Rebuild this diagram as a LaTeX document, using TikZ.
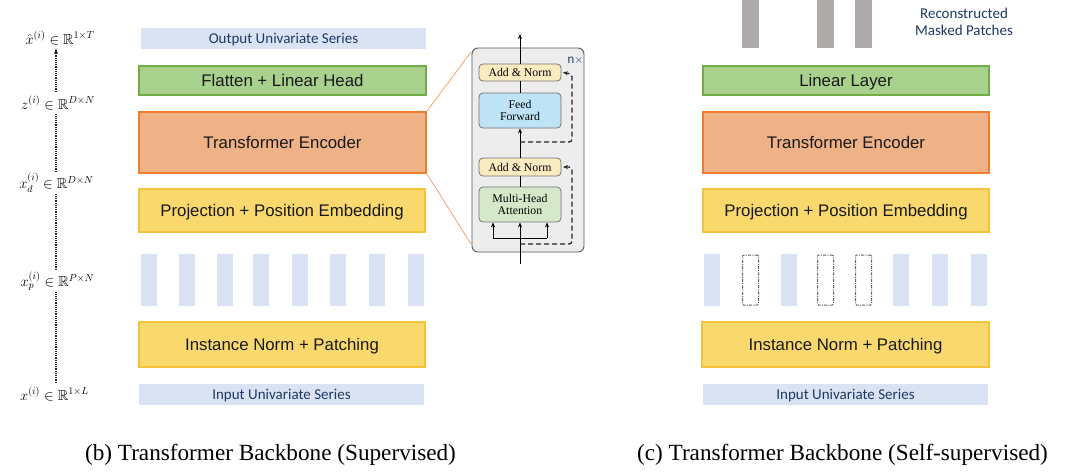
\RequirePackage{fix-cm}
\documentclass[tikz,border=0pt]{standalone}
\usepackage{fontspec}
\usepackage{amssymb}
\setmainfont{Liberation Serif}
\newfontfamily\arialf{Liberation Sans}
\newfontfamily\calf{Carlito}
\usetikzlibrary{arrows.meta,calc}
\definecolor{barblue}{HTML}{DAE3F3}
\definecolor{txtblue}{HTML}{1F3864}
\definecolor{grfill}{HTML}{A9D18E}
\definecolor{grline}{HTML}{70AD47}
\definecolor{orfill}{HTML}{EEB286}
\definecolor{orline}{HTML}{ED7D31}
\definecolor{yefill}{HTML}{F9D96E}
\definecolor{yeline}{HTML}{F5C23C}
\definecolor{graybar}{HTML}{AEAAAA}
\definecolor{detfill}{HTML}{EDEDED}
\definecolor{anfill}{HTML}{FAEBC0}
\definecolor{fffill}{HTML}{BEE2F6}
\definecolor{mhfill}{HTML}{D5E9CA}
\tikzset{
  colbox/.style={draw, line width=2pt, inner sep=0pt, text=black!90, font=\arialf\fontsize{16.8}{19}\selectfont, text height=12.5pt, text depth=0.5pt, minimum width=286pt},
  greenbox/.style={colbox, fill=grfill, draw=grline},
  orangebox/.style={colbox, fill=orfill, draw=orline},
  yellowbox/.style={colbox, fill=yefill, draw=yeline},
  serbar/.style={fill=barblue, inner sep=0pt, minimum width=285pt, minimum height=21pt, text=txtblue, font=\calf\fontsize{15}{17}\selectfont, text height=10pt, text depth=0pt},
  patch/.style={fill=barblue, inner sep=0pt, minimum width=16pt, minimum height=52pt},
  maskpatch/.style={draw=black!62, line width=1pt, dash pattern=on 3pt off 1.2pt on 1pt off 1.2pt, inner sep=0pt, minimum width=16pt, minimum height=50pt, rounded corners=1pt},
  recpatch/.style={fill=graybar, inner sep=0pt, minimum width=17pt, minimum height=48pt},
  mathlbl/.style={inner sep=0pt, minimum height=22pt, font=\fontsize{14.5}{16}\selectfont},
  dotline/.style={line width=1.2pt, dash pattern=on 1.2pt off 1pt, black!85},
  detbox/.style={draw=black!55, line width=0.8pt, rounded corners=4pt, inner sep=0pt, minimum width=82pt, align=center, font=\fontsize{11.8}{12.5}\selectfont},
  flow/.style={line width=1pt, black},
  flowarr/.style={flow, -{Stealth[length=5pt,width=4pt]}},
  resid/.style={line width=1.3pt, black!85, dash pattern=on 5pt off 3pt, rounded corners=3pt, -{Stealth[length=5pt,width=4pt]}},
  zoomline/.style={draw=orline!80, line width=0.7pt},
  caption/.style={font=\fontsize{23.2}{26}\selectfont, inner sep=0pt}
}
\begin{document}
\begin{tikzpicture}[x=1pt,y=-1pt]
\useasboundingbox (0,0) rectangle (1082,472);
% ---------- left panel ----------
\node[serbar] (outL) at (283.5,38.5) {Output Univariate Series};
\node[greenbox, minimum width=287pt, minimum height=29pt] (flatL) at (282.5,80.5) {Flatten + Linear Head};
\node[orangebox, minimum width=287pt, minimum height=61pt] (encL) at (282.5,142.5) {Transformer Encoder};
\node[yellowbox, minimum width=286pt, minimum height=43pt] (projL) at (282,210.5) {Projection + Position Embedding};
\foreach \i/\cx in {1/149,2/187,3/225,4/261,5/300,6/338,7/377,8/415.5}
  \node[patch] (pL\i) at (\cx,280) {};
\node[yellowbox, minimum width=286pt, minimum height=45pt] (instL) at (282,344.5) {Instance Norm + Patching};
\node[serbar] (inL) at (281.5,394.5) {Input Univariate Series};
% math labels and dotted axis
\coordinate (axis) at (56,0);
\node[mathlbl] (lx) at (54.5,394) {$x^{(i)}\in\mathbb{R}^{1\times L}$};
\node[mathlbl] (lxp) at (57.5,281) {$x_p^{(i)}\in\mathbb{R}^{P\times N}$};
\node[mathlbl] (lxd) at (56.5,183) {$x_d^{(i)}\in\mathbb{R}^{D\times N}$};
\node[mathlbl] (lz) at (58,103) {$z^{(i)}\in\mathbb{R}^{D\times N}$};
\node[mathlbl] (lxh) at (60,38) {$\hat{x}^{(i)}\in\mathbb{R}^{1\times T}$};
\draw[dotline] (lx.north -| axis) -- (lxp.south -| axis);
\draw[dotline] (lxp.north -| axis) -- (lxd.south -| axis);
\draw[dotline] (lxd.north -| axis) -- (lz.south -| axis);
\draw[dotline, -{Stealth[length=6pt,width=4pt]}] (lz.north -| axis) -- ($(lxh.south -| axis)+(0,-1)$);
% ---------- transformer detail ----------
\draw[fill=detfill, draw=black!65, line width=0.9pt, rounded corners=6pt] (472,48) rectangle (584,252);
\coordinate (detTL) at (471,52);
\coordinate (detBL) at (471,244);
\draw[zoomline] (encL.north east) -- (detTL);
\draw[zoomline] (encL.south east) -- (detBL);
\node[text=txtblue, font=\arialf\fontsize{12}{13}\selectfont, inner sep=0pt] (nx) at (575.5,60) {n$\times$};
\node[detbox, fill=anfill, minimum height=17pt] (an2) at (520,72.5) {Add \& Norm};
\node[detbox, fill=fffill, minimum height=35pt] (ff) at (520,110.5) {Feed\\[-1pt]Forward};
\node[detbox, fill=anfill, minimum height=18pt] (an1) at (520,167) {Add \& Norm};
\node[detbox, fill=mhfill, minimum height=35pt] (mha) at (520,204.5) {Multi-Head\\[-1pt]Attention};
\coordinate (dtop) at (520,34);
\coordinate (dbot) at (520,264);
\coordinate (splitL) at (493,238);
\coordinate (splitR) at (547,238);
\coordinate (res1) at (520,244);
\coordinate (res2) at (520,142);
\draw[flowarr] (dbot) -- (mha.south);
\draw[flow] (splitL) -- (splitR);
\draw[flowarr] (splitL) -- (splitL |- mha.south);
\draw[flowarr] (splitR) -- (splitR |- mha.south);
\draw[flow] (mha.north) -- (an1.south);
\draw[flowarr] (an1.north) -- (ff.south);
\draw[flow] (ff.north) -- (an2.south);
\draw[flowarr] (an2.north) -- (dtop);
\draw[resid] (res1) -- (572,244) -- (572,167) -- ([xshift=1.5pt]an1.east);
\draw[resid] (res2) -- (572,142) -- (572,74) -- ([xshift=1.5pt]an2.east);
% ---------- right panel ----------
\foreach \i/\cx in {1/750.5,2/825.5,3/863.5}
  \node[recpatch] (rR\i) at (\cx,24) {};
\node[text=txtblue, font=\calf\fontsize{15}{16.5}\selectfont, align=center, inner sep=0pt] (recl) at (964,22) {Reconstructed\\Masked Patches};
\node[greenbox, minimum height=29pt] (linR) at (846,80.5) {Linear Layer};
\node[orangebox, minimum height=61pt] (encR) at (846,142.5) {Transformer Encoder};
\node[yellowbox, minimum height=43pt] (projR) at (846,210.5) {Projection + Position Embedding};
\foreach \i/\cx in {1/712,3/789,6/901,7/940,8/979}
  \node[patch] (pR\i) at (\cx,280) {};
\foreach \i/\cx in {2/750.5,4/825.5,5/863.5}
  \node[maskpatch] (pR\i) at (\cx,280) {};
\node[yellowbox, minimum width=287pt, minimum height=45pt] (instR) at (845.5,344.5) {Instance Norm + Patching};
\node[serbar] (inR) at (845.5,394.5) {Input Univariate Series};
% ---------- captions ----------
\node[caption] (capL) at (270.5,455) {(b) Transformer Backbone (Supervised)};
\node[caption] (capR) at (842.5,455) {(c) Transformer Backbone (Self-supervised)};
\end{tikzpicture}
\end{document}
